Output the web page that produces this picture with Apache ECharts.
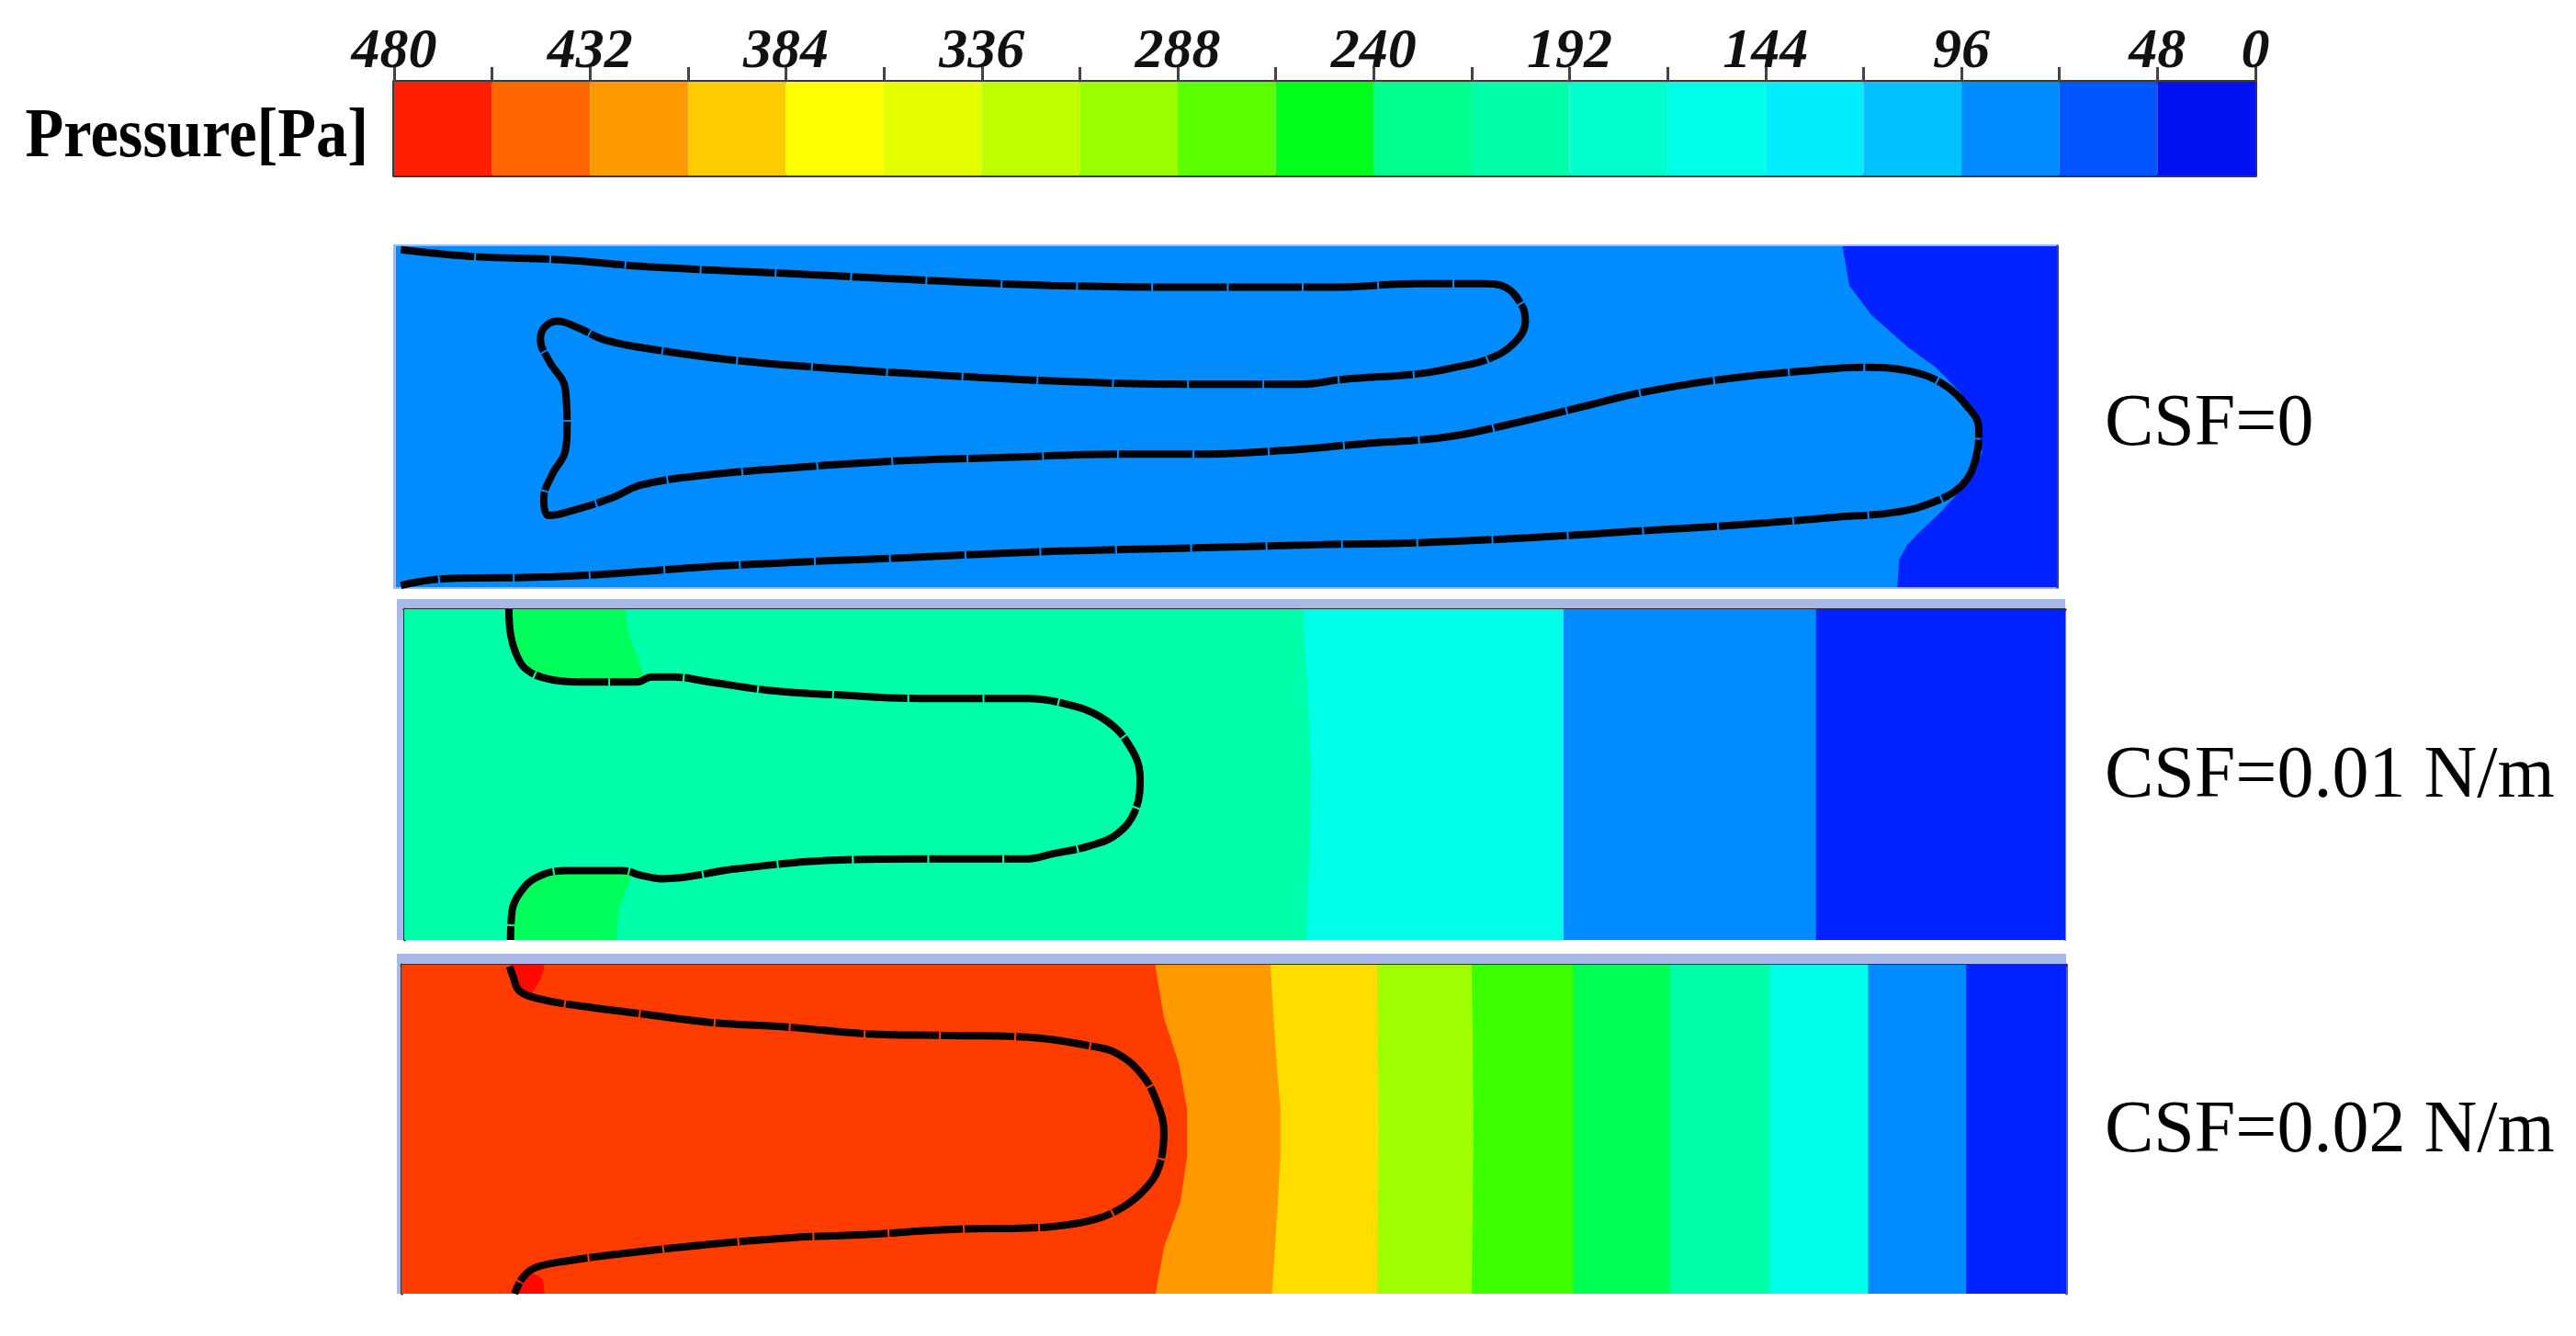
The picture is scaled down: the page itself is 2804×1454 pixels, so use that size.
<!DOCTYPE html>
<html><head><meta charset="utf-8">
<script src="https://cdn.jsdelivr.net/npm/echarts@6/dist/echarts.min.js"></script>
<style>html,body{margin:0;padding:0;background:#fff}#c{width:2804px;height:1454px}</style>
</head><body><div id="c"></div>
<script>
// ---------- colour bar ----------
const barTickLabels = ['480','','432','','384','','336','','288','','240','','192','','144','','96','','48','0'];
const barColors = ['#ff2000','#ff6600','#ff9900','#ffcc00','#ffff00','#e5ff00','#bfff00','#99ff00','#5cff00','#00ff1a',
                   '#00ff8c','#00ffa8','#00ffcc','#00ffe6','#00eeff','#00c2ff','#008cff','#0055ff','#0011f0'];
const barTitle = 'Pressure[Pa]';
const caseLabels = ['CSF=0', 'CSF=0.01 N/m', 'CSF=0.02 N/m'];

// ---------- channel domain (x along channel, y across, in mm) ----------
const domainX = [0, 10];
const domainY = [0, 2];

// ---------- CSF = 0 ----------
const p1Body = '#008cff';
const p1BandColors = ['#0022ff'];
const p1BandEdges = [
  [[8.71,2.0],[8.71,1.99],[8.75,1.77],[8.88,1.60],[9.10,1.41],[9.27,1.29],[9.42,1.14],[9.52,0.96],[9.55,0.79],[9.45,0.60],
   [9.29,0.43],[9.18,0.33],[9.10,0.25],[9.05,0.16],[9.04,0.01],[9.04,0.0]]
];
const p1Interface = [
  [0.03,1.98],[0.46,1.94],[1.00,1.92],[1.51,1.88],[2.37,1.84],[3.19,1.80],[3.95,1.77],[4.81,1.76],[5.64,1.76],[6.14,1.78],
  [6.55,1.78],[6.68,1.76],[6.78,1.65],[6.80,1.56],[6.73,1.43],[6.58,1.34],[6.38,1.29],[6.14,1.25],[5.71,1.22],[5.44,1.19],
  [4.81,1.19],[3.95,1.21],[3.16,1.25],[2.53,1.29],[2.05,1.33],[1.58,1.39],[1.26,1.45],[1.10,1.52],[0.97,1.56],[0.89,1.52],
  [0.87,1.45],[0.92,1.33],[1.02,1.16],[1.03,0.93],[1.02,0.80],[0.94,0.66],[0.89,0.52],[0.92,0.42],[1.03,0.44],[1.29,0.52],
  [1.48,0.60],[1.89,0.66],[2.53,0.71],[3.00,0.74],[3.64,0.76],[4.40,0.78],[4.81,0.78],[5.31,0.80],[5.81,0.84],[6.32,0.88],
  [6.68,0.95],[7.15,1.06],[7.49,1.14],[7.99,1.22],[8.50,1.27],[8.83,1.29],[9.10,1.27],[9.30,1.20],[9.46,1.06],[9.53,0.93],
  [9.51,0.75],[9.43,0.60],[9.26,0.50],[9.03,0.44],[8.66,0.41],[8.16,0.37],[7.49,0.33],[6.82,0.29],[6.14,0.26],[5.58,0.25],
  [4.81,0.23],[3.95,0.21],[3.00,0.17],[2.05,0.13],[0.94,0.06],[0.30,0.05],[0.03,0.01]
];

// ---------- CSF = 0.01 N/m ----------
const p2Body = '#00ffaa';
const p2BandColors = ['#00ffe6','#008cff','#0022ff'];
const p2BandEdges = [
  [[5.41,2.0],[5.44,1.5],[5.46,1.0],[5.45,0.5],[5.43,0.0]],
  [[6.98,2.0],[6.98,0.0]],
  [[8.50,2.0],[8.50,0.0]]
];
const p2SpotColor = '#00ff5a';
const p2Spots = [
  [[0.63,2.0],[0.64,1.85],[0.67,1.74],[0.73,1.64],[0.86,1.58],[1.05,1.56],[1.40,1.56],[1.44,1.60],[1.40,1.72],[1.35,1.85],[1.33,2.0]],
  [[1.37,0.41],[1.31,0.42],[0.98,0.42],[0.80,0.38],[0.70,0.29],[0.65,0.18],[0.64,0.0],[1.28,0.0],[1.29,0.18],[1.33,0.29]]
];
const p2Interface = [
  [0.63,2.0],[0.64,1.85],[0.67,1.74],[0.73,1.64],[0.86,1.58],[1.05,1.56],[1.40,1.56],[1.49,1.59],[1.62,1.59],[1.84,1.56],
  [2.19,1.51],[2.64,1.48],[3.11,1.46],[3.75,1.46],[3.97,1.43],[4.19,1.35],[4.35,1.20],[4.43,0.98],[4.40,0.78],[4.29,0.64],
  [4.13,0.57],[3.90,0.52],[3.75,0.49],[3.11,0.49],[2.54,0.48],[2.00,0.43],[1.55,0.37],[1.43,0.39],[1.31,0.42],[0.98,0.42],
  [0.80,0.38],[0.70,0.29],[0.65,0.18],[0.64,0.0]
];

// ---------- CSF = 0.02 N/m ----------
const p3Body = '#ff3c00';
const p3BandColors = ['#ff9900','#ffdd00','#a0ff00','#3cff00','#00ff55','#00ffaa','#00ffe6','#008cff','#0022ff'];
const p3BandEdges = [
  [[4.53,2.0],[4.53,1.98],[4.58,1.68],[4.67,1.40],[4.72,1.12],[4.72,0.84],[4.68,0.56],[4.58,0.28],[4.53,0.0]],
  [[5.22,2.0],[5.25,1.5],[5.28,1.12],[5.28,0.84],[5.26,0.48],[5.23,0.0]],
  [[5.86,2.0],[5.87,1.0],[5.86,0.0]],
  [[6.43,2.0],[6.44,1.0],[6.43,0.0]],
  [[7.04,2.0],[7.04,0.0]],
  [[7.62,2.0],[7.62,0.0]],
  [[8.22,2.0],[8.22,0.0]],
  [[8.81,2.0],[8.81,0.0]],
  [[9.40,2.0],[9.40,0.0]]
];
const p3SpotColor = '#ff0800';
const p3Spots = [
  [[0.65,2.0],[0.67,1.93],[0.71,1.84],[0.77,1.81],[0.80,1.85],[0.84,1.92],[0.86,2.0]],
  [[0.73,0.10],[0.78,0.13],[0.85,0.09],[0.86,0.0],[0.68,0.0]]
];
const p3Interface = [
  [0.65,1.99],[0.67,1.93],[0.71,1.84],[0.84,1.79],[1.07,1.75],[1.38,1.71],[1.85,1.65],[2.33,1.62],[2.80,1.58],[3.28,1.57],
  [3.76,1.56],[4.12,1.51],[4.30,1.46],[4.45,1.33],[4.54,1.16],[4.58,0.98],[4.55,0.77],[4.47,0.64],[4.34,0.53],[4.16,0.45],
  [3.93,0.41],[3.76,0.40],[3.28,0.39],[2.80,0.36],[2.33,0.34],[1.85,0.30],[1.38,0.25],[1.00,0.20],[0.81,0.16],[0.73,0.10],
  [0.68,0.0]
];

// ---------- build ----------
function panelShapes(body, edges, colors, spots, spotColor) {
  const x1 = domainX[1], y1 = domainY[1];
  const shapes = [{pts: [[domainX[0],domainY[0]],[x1,domainY[0]],[x1,y1],[domainX[0],y1]], color: body}];
  edges.forEach((e, i) => shapes.push({pts: e.concat([[x1, domainY[0]], [x1, y1]]), color: colors[i]}));
  (spots || []).forEach(s => shapes.push({pts: s, color: spotColor}));
  return shapes;
}
function polyRender(shapes) {
  return function (params, api) {
    const s = shapes[params.dataIndex];
    return {type: 'polygon', shape: {points: s.pts.map(p => api.coord(p))}, style: {fill: s.color}};
  };
}
const panels = [
  panelShapes(p1Body, p1BandEdges, p1BandColors, [], null),
  panelShapes(p2Body, p2BandEdges, p2BandColors, p2Spots, p2SpotColor),
  panelShapes(p3Body, p3BandEdges, p3BandColors, p3Spots, p3SpotColor)
];
const interfaces = [p1Interface, p2Interface, p3Interface];

const gridBox = [
  {left: 429, top: 89, width: 2026, height: 102},
  {left: 431, top: 268, width: 1808, height: 371},
  {left: 440, top: 663, width: 1808, height: 360},
  {left: 437, top: 1050, width: 1812, height: 358}
];
const grid = gridBox.map(g => Object.assign({show: false, containLabel: false, outerBoundsMode: 'none'}, g));

function ax(gridIndex, min, max, extra) {
  return Object.assign({
    type: 'value', gridIndex, min, max,
    axisLabel: {show: false}, axisTick: {show: false}, splitLine: {show: false},
    axisLine: {show: false, onZero: false}
  }, extra || {});
}
function line(color, width) { return {show: true, onZero: false, lineStyle: {color, width}}; }

const xAxis = [
  ax(0, 0, barColors.length, {
    position: 'top', interval: 1,
    axisLine: line('#3a3a3a', 4),
    axisTick: {show: true, inside: false, length: 16, lineStyle: {color: '#444', width: 3}},
    axisLabel: {show: true, margin: 6, formatter: v => barTickLabels[Math.round(v)] || '',
      fontFamily: 'Liberation Serif', fontStyle: 'italic', fontWeight: 'bold', fontSize: 62, color: '#111'}
  }),
  ax(0, 0, barColors.length, {position: 'bottom', axisLine: line('#3a3a3a', 4)}),
  ax(1, domainX[0], domainX[1], {position: 'bottom'}),
  ax(2, domainX[0], domainX[1], {position: 'top', axisLine: line('#2a2a2a', 3)}),
  ax(3, domainX[0], domainX[1], {position: 'top', axisLine: line('#333', 3)})
];
const yAxis = [
  ax(0, 0, 1, {position: 'left', axisLine: line('#3a3a3a', 4)}),
  ax(0, 0, 1, {position: 'right', axisLine: line('#3a3a3a', 4)}),
  ax(1, domainY[0], domainY[1], {position: 'left'}),
  ax(1, domainY[0], domainY[1], {position: 'right', axisLine: line('#4a4a4a', 3)}),
  ax(2, domainY[0], domainY[1], {position: 'left', axisLine: line('#2a2a2a', 3)}),
  ax(2, domainY[0], domainY[1], {position: 'right', axisLine: line('#6d86ff', 2)}),
  ax(3, domainY[0], domainY[1], {position: 'left', axisLine: line('#333', 3)}),
  ax(3, domainY[0], domainY[1], {position: 'right', axisLine: line('#666', 3)})
];

const series = [{
  type: 'custom', xAxisIndex: 0, yAxisIndex: 0, silent: true, z: 1,
  data: barColors.map((c, i) => [i, i + 1]),
  renderItem: (params, api) => {
    const a = api.coord([api.value(0), 1]), b = api.coord([api.value(1), 0]);
    return {type: 'rect', shape: {x: a[0], y: a[1], width: b[0] - a[0], height: b[1] - a[1]},
      style: {fill: barColors[params.dataIndex]}};
  }
}];
const panelX = [2, 3, 4], panelY = [2, 4, 6];
panels.forEach((shapes, k) => {
  series.push({
    type: 'custom', xAxisIndex: panelX[k], yAxisIndex: panelY[k], silent: true, clip: true, z: 1,
    data: shapes.map(s => s.pts[0]), renderItem: polyRender(shapes)
  });
  series.push({
    type: 'line', xAxisIndex: panelX[k], yAxisIndex: panelY[k], silent: true, clip: true, z: 3,
    data: interfaces[k], showSymbol: false, smooth: 0.4,
    lineStyle: {color: '#000', width: 8, type: [80, 2]}
  });
});

const frameRects = [
  {x: 428, y: 266, width: 1813, height: 375, fill: '#a3b9ec'},
  {x: 432, y: 652, width: 1816, height: 371, fill: '#a8b8e8'},
  {x: 432, y: 1038, width: 1817, height: 370, fill: '#a8b8e8'}
];
const labelY = [457, 840, 1226];
const graphic = frameRects.map(r => ({type: 'rect', z: 0, shape: {x: r.x, y: r.y, width: r.width, height: r.height},
  style: {fill: r.fill}, silent: true}));
graphic.push({type: 'text', x: 401, y: 145, z: 10, scaleX: 0.9, style: {text: barTitle, fill: '#000',
  font: 'bold 76px "Liberation Serif"', align: 'right', verticalAlign: 'middle'}});
caseLabels.forEach((t, i) => graphic.push({type: 'text', x: 2291, y: labelY[i], z: 10,
  style: {text: t, fill: '#000', font: '80px "Liberation Serif"', align: 'left', verticalAlign: 'middle'}}));

const chart = echarts.init(document.getElementById('c'), null, {renderer: 'svg', width: 2804, height: 1454});
chart.setOption({animation: false, backgroundColor: '#fff', grid, xAxis, yAxis, series, graphic});
</script></body></html>
